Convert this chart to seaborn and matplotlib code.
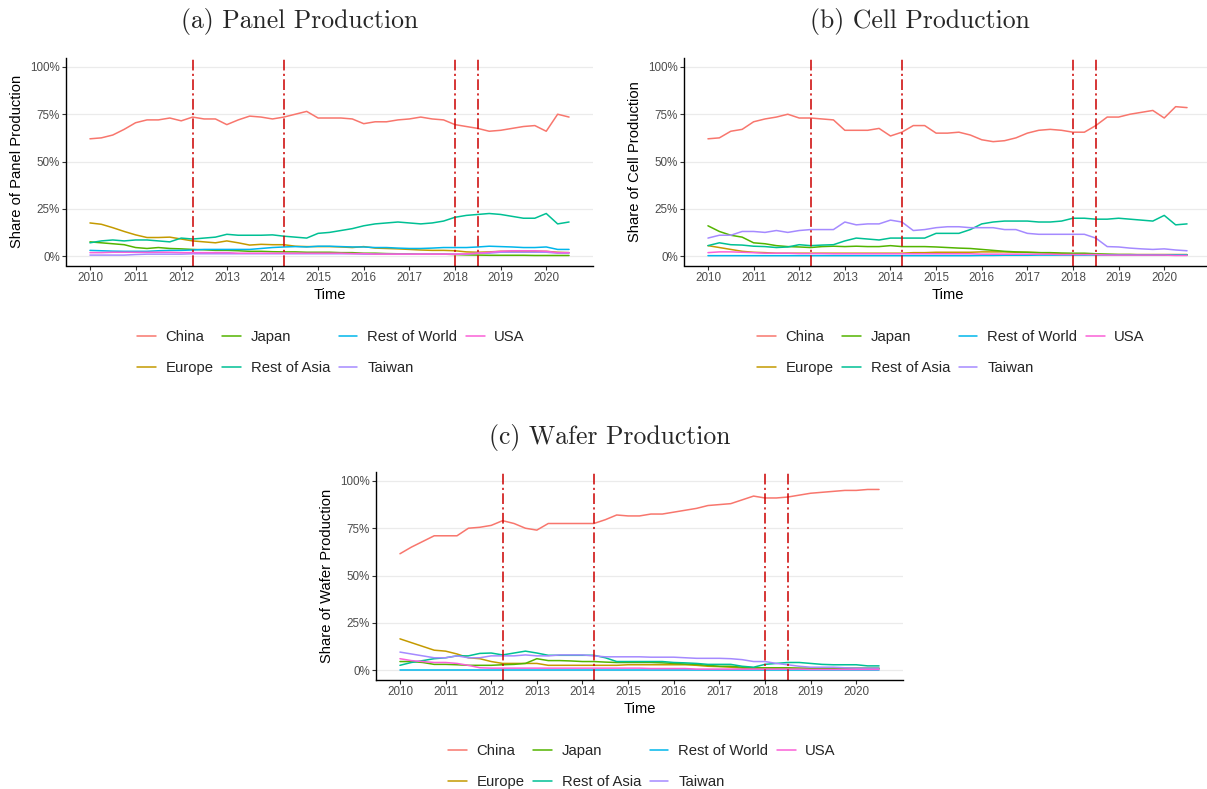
"""Regional shares of panel, cell and wafer production, 2010-2020 (quarterly)."""
import numpy as np
import pandas as pd
import matplotlib
matplotlib.use("Agg")
import matplotlib.pyplot as plt
from matplotlib.ticker import PercentFormatter
import seaborn as sns

# quarterly time index, 2010Q1 .. 2020Q3
QUARTERS = np.arange(2010, 2020.51, 0.25)

REGIONS = ["China", "Europe", "Japan", "Rest of Asia", "Rest of World", "Taiwan", "USA"]
COLORS = ["#F8766D", "#C49A00", "#53B400", "#00C094", "#00B6EB", "#A58AFF", "#FB61D7"]

EVENT_LINES = [2012.25, 2014.25, 2018.0, 2018.5]
YEAR_TICKS = list(range(2010, 2021))

# ---- (a) panel production, % share ----
panel_china = [62, 62.5, 64, 67, 70.5, 72, 72, 73, 71.5, 73.5, 72.5, 72.5, 69.5, 72, 74, 73.5,
               72.5, 73.5, 75, 76.5, 73, 73, 73, 72.5, 70, 71, 71, 72, 72.5, 73.5, 72.5, 72,
               69.5, 68.5, 67.5, 66, 66.5, 67.5, 68.5, 69, 66, 75, 73.5]
panel_europe = [17.5, 16.8, 15, 13, 11.2, 9.8, 9.8, 10, 9, 8, 7.5, 7, 8, 7, 5.8, 6.2,
                6, 6, 5.2, 5, 5, 5, 4.8, 4.5, 5, 4.2, 4, 3.8, 3.5, 3.2, 3, 3,
                2.8, 2.2, 2, 2.2, 2.5, 2.5, 2.5, 2.5, 2.5, 2, 1.8]
panel_japan = [7.5, 7, 6.5, 6, 4.5, 4, 4.5, 4, 3.8, 3.5, 3.3, 3, 3, 2.8, 2.5, 2.5,
               2.3, 2.2, 2.2, 2, 2, 2, 1.8, 1.8, 1.5, 1.5, 1.3, 1.2, 1.2, 1, 1, 1,
               0.8, 0.6, 0.5, 0.4, 0.4, 0.4, 0.4, 0.3, 0.3, 0.3, 0.3]
panel_rest_asia = [7, 8, 8.5, 8, 8.5, 8.5, 8, 7.5, 9.5, 9, 9.5, 10, 11.5, 11, 11, 11,
                   11.2, 10.5, 10, 9.5, 12, 12.5, 13.5, 14.5, 16, 17, 17.5, 18, 17.5, 17, 17.5, 18.5,
                   20.5, 21.5, 22, 22.5, 22, 21, 20, 20, 22.5, 17, 18]
panel_rest_world = [3, 2.8, 2.6, 2.5, 2.5, 2.5, 2.8, 3, 3, 3.2, 3.5, 3.5, 3.5, 3.5, 3.5, 4,
                    4.5, 4.8, 5, 4.8, 5.2, 5.2, 5, 4.8, 4.8, 4.5, 4.5, 4.2, 4, 4, 4.2, 4.5,
                    4.5, 4.5, 4.8, 5.2, 5, 4.8, 4.5, 4.5, 4.8, 3.5, 3.5]
panel_taiwan = [0.5, 0.5, 0.5, 0.5, 0.8, 1, 1, 1, 1, 1.2, 1.2, 1.2, 1.2, 1.2, 1.2, 1.2,
                1.2, 1.2, 1.2, 1.2, 1.2, 1.2, 1.2, 1.2, 1, 1, 1, 1, 1, 1, 1, 1,
                1, 1, 1.5, 1.5, 2, 2, 2, 2, 2, 1.5, 1.5]
panel_usa = [1.8, 1.8, 2, 2, 2, 2, 2, 2, 1.8, 1.8, 1.8, 1.8, 1.8, 1.5, 1.5, 1.5,
             1.5, 1.5, 1.5, 1.5, 1.5, 1.5, 1.5, 1.3, 1.3, 1, 1, 1, 1, 1, 1, 1,
             1, 1.2, 1.5, 2, 2.5, 2.8, 2.8, 2.8, 2.5, 1.8, 1.8]

# ---- (b) cell production, % share ----
cell_china = [62, 62.5, 66, 67, 71, 72.5, 73.5, 75, 73, 73, 72.5, 72, 66.5, 66.5, 66.5, 67.5,
              63.5, 65.5, 69, 69, 65, 65, 65.5, 64, 61.5, 60.5, 61, 62.5, 65, 66.5, 67, 66.5,
              65.5, 65.5, 69, 73.5, 73.5, 75, 76, 77, 73, 79, 78.5]
cell_europe = [5.5, 4.5, 3.5, 2.5, 2, 1.8, 1.5, 1.5, 1.5, 1.5, 1.5, 1.5, 1.5, 1.5, 1.5, 1.5,
               1.5, 1.5, 1.8, 1.8, 2, 2, 2, 2, 2.2, 2.2, 2.2, 2, 2, 1.8, 1.5, 1.2,
               1, 1, 0.8, 0.8, 0.8, 0.8, 0.8, 0.8, 0.8, 0.8, 0.8]
cell_japan = [16, 13, 11, 10, 7, 6.5, 5.5, 5, 4.8, 4.5, 5, 5.2, 5, 5.2, 5, 5,
              5.5, 5, 5, 5, 4.8, 4.5, 4.2, 4, 3.5, 3, 2.5, 2.2, 2, 1.8, 1.8, 1.6,
              1.5, 1.5, 1.2, 1, 0.8, 0.8, 0.6, 0.6, 0.5, 0.5, 0.5]
cell_rest_asia = [5.5, 7, 6, 5.8, 5.2, 5, 4.5, 4.8, 6, 5.5, 5.8, 6, 8, 9.5, 9, 8.5,
                  9.5, 9.5, 9.5, 9.5, 12, 12, 12, 14, 17, 18, 18.5, 18.5, 18.5, 18, 18, 18.5,
                  20, 20, 19.5, 19.5, 20, 19.5, 19, 18.5, 21.5, 16.5, 17]
cell_rest_world = [0.2, 0.2, 0.2, 0.2, 0.2, 0.2, 0.2, 0.2, 0.2, 0.2, 0.2, 0.2, 0.2, 0.2, 0.2, 0.2,
                   0.2, 0.2, 0.2, 0.2, 0.2, 0.2, 0.2, 0.2, 0.3, 0.3, 0.4, 0.4, 0.4, 0.5, 0.5, 0.5,
                   0.5, 0.5, 0.6, 0.6, 0.6, 0.6, 0.6, 0.6, 0.6, 0.6, 0.6]
cell_taiwan = [9.5, 11, 11, 13, 13, 12.5, 13.5, 12.5, 13.5, 14, 14, 14, 18, 16.5, 17, 17,
               19, 18, 13.5, 14, 15, 15.5, 15.5, 15, 15, 15, 14, 14, 12, 11.5, 11.5, 11.5,
               11.5, 11.5, 9.5, 5, 4.8, 4.2, 3.8, 3.5, 3.8, 3.2, 2.8]
cell_usa = [1.8, 2.2, 2.2, 2, 1.8, 1.5, 1.5, 1.5, 1.3, 1.3, 1.3, 1.2, 1.2, 1.2, 1.2, 1.2,
            1.2, 1.2, 1.2, 1.2, 1.2, 1.2, 1.2, 1.2, 1, 1, 1, 1, 1, 1, 1, 0.8,
            0.8, 0.8, 0.8, 0.5, 0.5, 0.5, 0.5, 0.5, 0.5, 0.3, 0.3]

# ---- (c) wafer production, % share ----
wafer_china = [61.5, 65, 68, 71, 71, 71, 75, 75.5, 76.5, 79, 77.5, 75, 74, 77.5, 77.5, 77.5,
               77.5, 77.5, 79.5, 82, 81.5, 81.5, 82.5, 82.5, 83.5, 84.5, 85.5, 87, 87.5, 88, 90, 92,
               91, 91, 91.5, 92.5, 93.5, 94, 94.5, 95, 95, 95.5, 95.5]
wafer_europe = [16.5, 14.5, 12.5, 10.5, 10, 8.5, 6.5, 6, 4.5, 3.5, 3.5, 3.5, 3.5, 2.5, 2.5, 2.5,
                2.5, 2.5, 2.5, 2.5, 2.8, 2.8, 2.8, 2.8, 2.8, 2.8, 2.5, 2, 1.8, 1.5, 1, 0.8,
                0.8, 0.8, 0.8, 0.8, 0.8, 0.8, 0.8, 0.8, 0.8, 0.8, 0.8]
wafer_japan = [4.5, 4.5, 4, 3, 3, 2.8, 2.5, 2.5, 2.5, 2.8, 3, 3.5, 6, 5, 5, 4.8,
               4.5, 4.5, 4.2, 4, 4, 4, 4, 3.8, 3.5, 3.2, 3, 2.5, 2, 2, 1.5, 1.2,
               1.2, 1.2, 1.2, 1, 1, 1, 1, 1, 1, 1, 1]
wafer_rest_asia = [2.5, 4, 5, 6, 6.5, 7.5, 7.5, 8.8, 9, 8, 9, 10, 9, 7.8, 7.8, 7.8,
                   7.8, 7.8, 6.5, 4.5, 4.5, 4.5, 4.5, 4.5, 4, 3.8, 3.5, 3, 3, 3, 2, 1.5,
                   3, 3.5, 4, 4, 3.5, 3, 2.8, 2.8, 2.8, 2.2, 2.2]
wafer_rest_world = [0.2, 0.2, 0.2, 0.2, 0.2, 0.2, 0.2, 0.2, 0.2, 0.2, 0.2, 0.2, 0.2, 0.2, 0.2, 0.2,
                    0.2, 0.2, 0.2, 0.2, 0.2, 0.2, 0.2, 0.2, 0.2, 0.2, 0.2, 0.2, 0.2, 0.2, 0.2, 0.2,
                    0.2, 0.2, 0.2, 0.2, 0.2, 0.2, 0.2, 0.2, 0.2, 0.2, 0.2]
wafer_taiwan = [9.5, 8.5, 7.5, 6.5, 6.5, 7.5, 6.5, 6.5, 7.5, 7.5, 7.5, 8, 7.5, 7.5, 8, 8,
                8, 7.5, 7, 7, 7, 7, 6.8, 6.8, 6.8, 6.5, 6.2, 6.2, 6.2, 6, 5.5, 4.5,
                4.5, 3.5, 2.8, 2, 1.5, 1.5, 1.5, 1.2, 1, 1, 1]
wafer_usa = [6, 5, 4.5, 4, 4, 3.5, 2.5, 1.2, 1, 1, 1, 1, 1, 1, 1, 1,
             1, 1, 1, 1, 1, 1, 0.8, 0.8, 0.8, 0.8, 0.5, 0.5, 0.5, 0.5, 0.5, 0.5,
             0.5, 0.5, 0.5, 0.5, 0.3, 0.3, 0.3, 0.3, 0.3, 0.3, 0.3]

PANELS = [
    ("(a) Panel Production", "Share of Panel Production",
     [panel_china, panel_europe, panel_japan, panel_rest_asia, panel_rest_world, panel_taiwan, panel_usa]),
    ("(b) Cell Production", "Share of Cell Production",
     [cell_china, cell_europe, cell_japan, cell_rest_asia, cell_rest_world, cell_taiwan, cell_usa]),
    ("(c) Wafer Production", "Share of Wafer Production",
     [wafer_china, wafer_europe, wafer_japan, wafer_rest_asia, wafer_rest_world, wafer_taiwan, wafer_usa]),
]

W, H = 1207, 789
# pixel layout: (axes left, axes top, title centre x, title centre y, legend centre x, legend centre y)
LAYOUT = [
    (66, 57.5, 300, 21.5, 331, 352.5),
    (684, 57.5, 920, 21.5, 951, 352.5),
    (376, 471.5, 610, 437.5, 642, 766.5),
]
AX_W, AX_H = 527, 208


def long_frame(series):
    rows = []
    for region, vals in zip(REGIONS, series):
        rows.append(pd.DataFrame({"time": QUARTERS, "share": vals, "region": region}))
    return pd.concat(rows, ignore_index=True)


def draw_panel(fig, layout, title, ylabel, series):
    left, top, tx, ty, lx, ly = layout
    ax = fig.add_axes([left / W, 1 - (top + AX_H) / H, AX_W / W, AX_H / H])
    df = long_frame(series)
    sns.lineplot(data=df, x="time", y="share", hue="region", hue_order=REGIONS,
                 palette=COLORS, linewidth=1.1, ax=ax, legend=False)
    handles = list(ax.lines[:len(REGIONS)])

    for xv in EVENT_LINES:
        ax.axvline(xv, color="#CC0000", lw=1.1, linestyle=(0, (7, 2.2, 1.4, 2.2)))

    ax.set_xlim(2009.475, 2021.025)
    ax.set_ylim(-5, 105)
    ax.set_xticks(YEAR_TICKS)
    ax.set_yticks([0, 25, 50, 75, 100])
    ax.yaxis.set_major_formatter(PercentFormatter(decimals=0))
    ax.grid(axis="y", color="#EBEBEB", lw=0.9)
    ax.grid(axis="x", visible=False)
    ax.set_axisbelow(True)
    for side in ("top", "right"):
        ax.spines[side].set_visible(False)
    for side in ("left", "bottom"):
        ax.spines[side].set_color("black")
        ax.spines[side].set_linewidth(1.0)
    ax.tick_params(axis="both", colors="#333333", length=3, width=0.8, pad=1.5,
                   labelsize=8.4, labelcolor="#4D4D4D", left=True, bottom=True)
    ax.set_xlabel("Time", fontsize=10.6, color="black", labelpad=3)
    ax.set_ylabel(ylabel, fontsize=10.6, color="black", labelpad=4)

    fig.text(tx / W, 1 - ty / H, title, ha="center", va="center",
             fontsize=18.5, family="cmr10")
    fig.legend(handles, REGIONS, loc="center", bbox_to_anchor=(lx / W, 1 - ly / H),
               ncol=4, frameon=False, fontsize=10.7, handlelength=1.25,
               handletextpad=0.65, columnspacing=0.6, labelspacing=1.12, borderpad=0)
    return ax


sns.set_theme(style="white")
plt.rcParams["font.family"] = ["Liberation Sans", "DejaVu Sans"]
plt.rcParams["axes.facecolor"] = "white"

fig = plt.figure(figsize=(W / 100, H / 100), dpi=100)
for layout, (title, ylabel, series) in zip(LAYOUT, PANELS):
    draw_panel(fig, layout, title, ylabel, series)

fig.savefig("out.png", dpi=100, facecolor="white")
